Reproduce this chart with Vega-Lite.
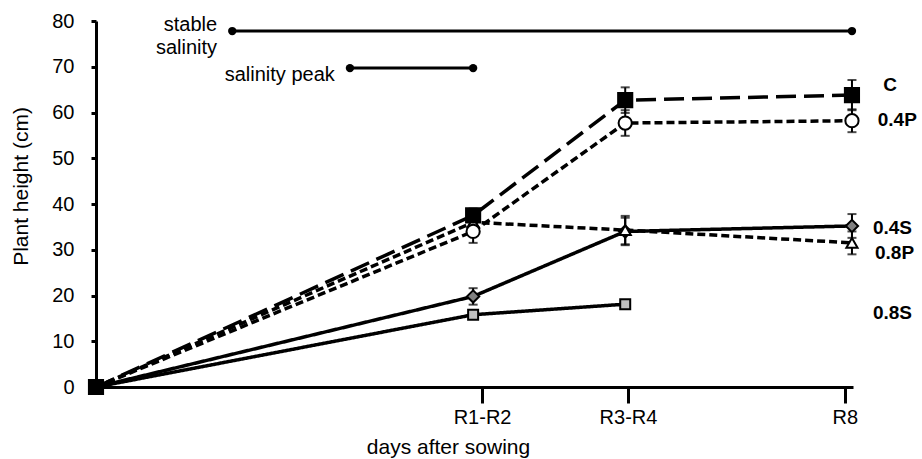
{
  "$schema": "https://vega.github.io/schema/vega-lite/v6.json",
  "width": 757,
  "height": 366,
  "autosize": {"type": "none"},
  "padding": {"left": 96, "top": 21, "right": 69, "bottom": 72},
  "background": "white",
  "config": {
    "view": {"stroke": null},
    "font": "Liberation Sans",
    "axis": {"grid": false, "domainColor": "black", "tickColor": "black", "labelColor": "black", "titleColor": "black", "labelFont": "Liberation Sans", "titleFont": "Liberation Sans", "titleFontWeight": "normal"}
  },
  "datasets": {
    "pts": [
      {"series": "0.4S", "x": 0, "y": 0},
      {"series": "0.4S", "x": 54.8, "y": 19.8},
      {"series": "0.4S", "x": 76.9, "y": 34.0},
      {"series": "0.4S", "x": 109.85, "y": 35.2},
      {"series": "0.8S", "x": 0, "y": 0},
      {"series": "0.8S", "x": 54.8, "y": 15.8},
      {"series": "0.8S", "x": 76.9, "y": 18.1},
      {"series": "0.8P", "x": 0, "y": 0},
      {"series": "0.8P", "x": 54.8, "y": 36.0},
      {"series": "0.8P", "x": 76.9, "y": 34.3},
      {"series": "0.8P", "x": 109.85, "y": 31.5},
      {"series": "C", "x": 54.8, "y": 37.5},
      {"series": "C", "x": 76.9, "y": 62.7},
      {"series": "C", "x": 109.85, "y": 63.8},
      {"series": "0.4P", "x": 0, "y": 0},
      {"series": "0.4P", "x": 54.8, "y": 34.0},
      {"series": "0.4P", "x": 76.9, "y": 57.7},
      {"series": "0.4P", "x": 109.85, "y": 58.2},
      {"series": "C", "x": 0, "y": 0}
    ],
    "err": [
      {"series": "0.4S", "x": 54.8, "lo": 18.0, "hi": 21.6},
      {"series": "0.4S", "x": 76.9, "lo": 31.0, "hi": 37.0},
      {"series": "0.4S", "x": 109.85, "lo": 32.6, "hi": 37.8},
      {"series": "0.8S", "x": 54.8, "lo": 15.0, "hi": 16.6},
      {"series": "0.8P", "x": 54.8, "lo": 34.0, "hi": 38.0},
      {"series": "0.8P", "x": 76.9, "lo": 31.2, "hi": 37.4},
      {"series": "0.8P", "x": 109.85, "lo": 29.0, "hi": 34.0},
      {"series": "C", "x": 54.8, "lo": 36.0, "hi": 39.0},
      {"series": "C", "x": 76.9, "lo": 59.9, "hi": 65.5},
      {"series": "C", "x": 109.85, "lo": 60.5, "hi": 67.1},
      {"series": "0.4P", "x": 54.8, "lo": 31.5, "hi": 36.5},
      {"series": "0.4P", "x": 76.9, "lo": 54.9, "hi": 60.5},
      {"series": "0.4P", "x": 109.85, "lo": 55.7, "hi": 60.7}
    ],
    "periods": [
      {"name": "stable salinity", "x": 19.8, "x2": 109.85, "y": 77.8},
      {"name": "salinity peak", "x": 36.9, "x2": 54.8, "y": 69.7}
    ],
    "ends": [
      {"name": "stable salinity", "x": 19.8, "y": 77.8},
      {"name": "stable salinity", "x": 109.85, "y": 77.8},
      {"name": "salinity peak", "x": 36.9, "y": 69.7},
      {"name": "salinity peak", "x": 54.8, "y": 69.7}
    ],
    "notes": [
      {"text": "stable\nsalinity", "x": 17.6, "y": 79.2},
      {"text": "salinity peak", "x": 34.7, "y": 68.3}
    ],
    "labels": [
      {"text": "C", "x": 114.4, "y": 66.0},
      {"text": "0.4P", "x": 113.6, "y": 58.4},
      {"text": "0.4S", "x": 112.9, "y": 34.8},
      {"text": "0.8P", "x": 113.2, "y": 29.3},
      {"text": "0.8S", "x": 112.9, "y": 16.2}
    ]
  },
  "layer": [
    {
      "data": {"name": "pts"},
      "mark": {"type": "line", "color": "black", "strokeWidth": 3.5},
      "encoding": {
        "x": {"field": "x", "type": "quantitative", "scale": {"domain": [0, 110], "nice": false},
          "axis": {"values": [56.1, 77.3, 108.8], "labelExpr": "datum.value < 60 ? 'R1-R2' : datum.value < 90 ? 'R3-R4' : 'R8'", "title": "days after sowing", "domainWidth": 3, "tickWidth": 3, "tickSize": 16, "labelFontSize": 20, "labelPadding": 4, "titleFontSize": 21, "titleX": 352, "titleY": 60, "titleBaseline": "middle", "titleAnchor": null}},
        "y": {"field": "y", "type": "quantitative", "scale": {"domain": [0, 80], "nice": false},
          "axis": {"values": [0, 10, 20, 30, 40, 50, 60, 70, 80], "title": "Plant height (cm)", "domainWidth": 3, "tickWidth": 3, "tickSize": 5, "labelFontSize": 20, "labelPadding": 17, "titleFontSize": 21, "titleX": -75, "titleY": 165, "titleBaseline": "middle", "titleAngle": -90}},
        "detail": {"field": "series"},
        "strokeDash": {"field": "series", "scale": {"domain": ["C", "0.4P", "0.4S", "0.8P", "0.8S"], "range": [[20, 8], [8, 4], [1, 0], [8, 4], [1, 0]]}, "legend": null}
      }
    },
    {
      "data": {"name": "err"},
      "mark": {"type": "rule", "color": "black", "strokeWidth": 2},
      "encoding": {
        "x": {"field": "x", "type": "quantitative"},
        "y": {"field": "lo", "type": "quantitative"},
        "y2": {"field": "hi"}
      }
    },
    {
      "data": {"name": "err"},
      "mark": {"type": "tick", "color": "black", "orient": "horizontal", "size": 9, "thickness": 2},
      "encoding": {
        "x": {"field": "x", "type": "quantitative"},
        "y": {"field": "lo", "type": "quantitative"}
      }
    },
    {
      "data": {"name": "err"},
      "mark": {"type": "tick", "color": "black", "orient": "horizontal", "size": 9, "thickness": 2},
      "encoding": {
        "x": {"field": "x", "type": "quantitative"},
        "y": {"field": "hi", "type": "quantitative"}
      }
    },
    {
      "data": {"name": "pts"},
      "mark": {"type": "point", "filled": true, "stroke": "black", "strokeWidth": 2, "opacity": 1},
      "encoding": {
        "x": {"field": "x", "type": "quantitative"},
        "y": {"field": "y", "type": "quantitative"},
        "shape": {"field": "series", "scale": {"domain": ["C", "0.4P", "0.4S", "0.8P", "0.8S"], "range": ["square", "circle", "diamond", "triangle-up", "square"]}, "legend": null},
        "fill": {"field": "series", "scale": {"domain": ["C", "0.4P", "0.4S", "0.8P", "0.8S"], "range": ["black", "white", "#808080", "white", "#c0c0c0"]}, "legend": null},
        "size": {"field": "series", "scale": {"domain": ["C", "0.4P", "0.4S", "0.8P", "0.8S"], "range": [200, 100, 90, 110, 170]}, "legend": null}
      }
    },
    {
      "data": {"name": "periods"},
      "mark": {"type": "rule", "color": "black", "strokeWidth": 3},
      "encoding": {
        "x": {"field": "x", "type": "quantitative"},
        "x2": {"field": "x2"},
        "y": {"field": "y", "type": "quantitative"}
      }
    },
    {
      "data": {"name": "ends"},
      "mark": {"type": "point", "filled": true, "color": "black", "size": 70, "opacity": 1},
      "encoding": {
        "x": {"field": "x", "type": "quantitative"},
        "y": {"field": "y", "type": "quantitative"}
      }
    },
    {
      "data": {"name": "notes"},
      "mark": {"type": "text", "align": "right", "baseline": "middle", "fontSize": 20, "lineBreak": "\n", "lineHeight": 23, "color": "black", "font": "Liberation Sans"},
      "encoding": {
        "x": {"field": "x", "type": "quantitative"},
        "y": {"field": "y", "type": "quantitative"},
        "text": {"field": "text"}
      }
    },
    {
      "data": {"name": "labels"},
      "mark": {"type": "text", "align": "left", "baseline": "middle", "fontSize": 19, "fontWeight": "bold", "color": "black", "font": "Liberation Sans"},
      "encoding": {
        "x": {"field": "x", "type": "quantitative"},
        "y": {"field": "y", "type": "quantitative"},
        "text": {"field": "text"}
      }
    }
  ]
}
